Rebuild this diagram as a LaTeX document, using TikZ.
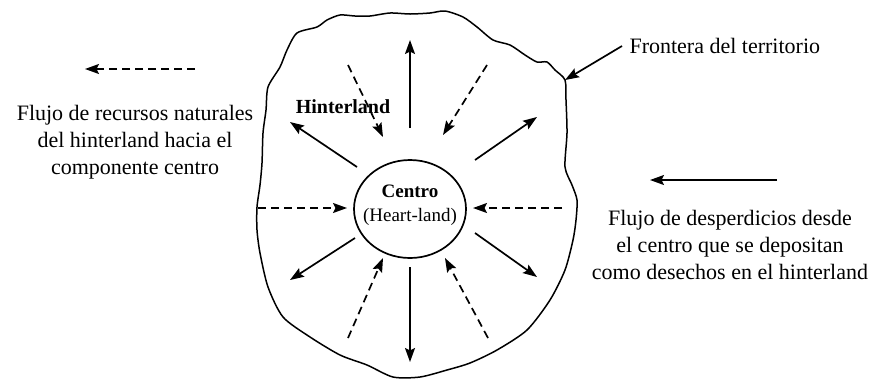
\documentclass[tikz,border=0pt]{standalone}
\usepackage{fontspec}
\setmainfont{Liberation Serif}
\usetikzlibrary{arrows.meta, shapes.geometric}

\begin{document}
\begin{tikzpicture}[x=0.5pt, y=-0.5pt, line width=0.85pt,
  lbl/.style={font=\fontsize{11}{13.5}\selectfont, align=center},
  flow/.style={-{Stealth[length=7pt, width=5pt, inset=1.2pt]}},
  back/.style={flow, dash pattern=on 4pt off 2.5pt}
]
  \useasboundingbox (0,0) rectangle (882,381);

  % borde del territorio
  \draw[line width=0.75pt, line join=round] plot[smooth cycle, tension=0.45] coordinates {
    (266,110) (268,87) (280,67) (287,50) (297,33) (317,27) (327,20) (340,15)
    (355,16) (370,16) (390,13) (410,14) (430,13) (445,11) (463,17) (477,27)
    (493,40) (510,45) (525,55) (537,62) (547,62) (555,70) (565,80)
    (566,100) (567,133) (565,167) (572,185) (577,200) (576,220) (573,240)
    (565,270) (550,300) (527,330) (497,350) (470,363) (447,370) (420,377)
    (393,377) (367,365) (340,355) (310,337) (283,317) (268,287) (260,253)
    (257,230) (257,207) (260,185) (262,163) (263,133)};
  \coordinate (edge) at (565,80);

  \node[ellipse, draw, minimum width=56pt, minimum height=49pt, inner sep=0pt,
        label={[font=\fontsize{9.5}{12}\selectfont, align=center, yshift=2pt]center:{\textbf{Centro}\\(Heart-land)}}]
        (hub) at (410,209) {};
  \node[font=\fontsize{10}{12}\selectfont\bfseries] (hint) at (343,107) {Hinterland};

  % flujos hacia afuera (desperdicios)
  \foreach \xa/\ya/\xb/\yb in {410/128/410/40, 410/267/410/362, 357/167/290/122,
      475/160/537/117, 355/238/290/280, 475/233/537/277} {
    \coordinate (s) at (\xa,\ya);
    \coordinate (t) at (\xb,\yb);
    \draw[flow] (s) -- (t);
  }
  % flujos hacia el centro (recursos)
  \foreach \xa/\ya/\xb/\yb in {258/208/347/208, 562/208/473/208, 348/65/383/137,
      487/65/443/135, 348/338/383/258, 488/338/445/258} {
    \coordinate (s) at (\xa,\ya);
    \coordinate (t) at (\xb,\yb);
    \draw[back] (s) -- (t);
  }

  \node[lbl, anchor=west] (fro) at (622,46) {Frontera del territorio};
  \draw[flow] (fro.west) -- (edge);

  % leyenda
  \coordinate (l1) at (195,69);
  \coordinate (l2) at (85,69);
  \draw[back] (l1) -- (l2);
  \node[lbl] (ltext) at (135,142) {Flujo de recursos naturales\\del hinterland hacia el\\componente centro};

  \coordinate (r1) at (777,180);
  \coordinate (r2) at (650,180);
  \draw[flow] (r1) -- (r2);
  \node[lbl] (rtext) at (730,245) {Flujo de desperdicios desde\\el centro que se depositan\\como desechos en el hinterland};
\end{tikzpicture}
\end{document}
